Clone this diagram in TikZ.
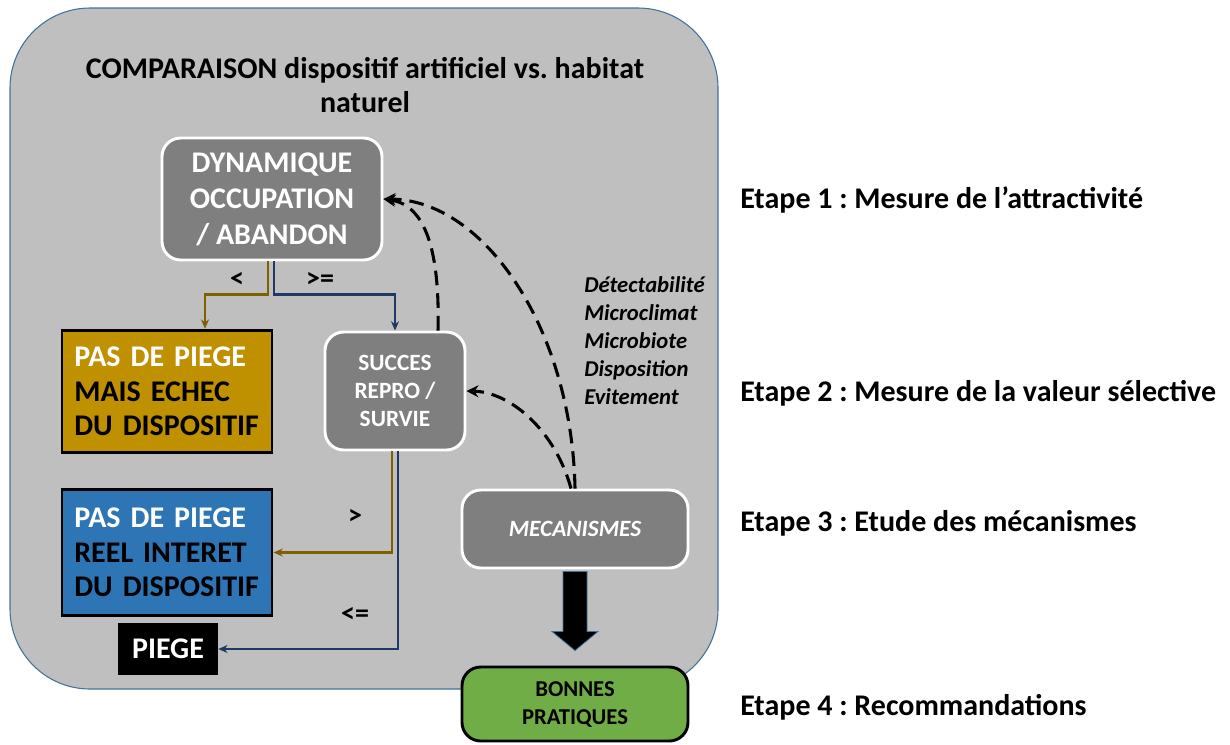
\documentclass[tikz,border=0pt]{standalone}
\usepackage{fontspec}
\setmainfont{Carlito}
\usetikzlibrary{arrows.meta,calc}

\definecolor{bggray}{HTML}{BFBFBF}
\definecolor{boxgray}{HTML}{7F7F7F}
\definecolor{gold}{HTML}{BF9000}
\definecolor{midblue}{HTML}{2E75B6}
\definecolor{leafgreen}{HTML}{70AD47}
\definecolor{brownline}{HTML}{7F6000}
\definecolor{navyline}{HTML}{1F3864}
\definecolor{edgeblue}{HTML}{41719C}

\frenchspacing

\begin{document}
\begin{tikzpicture}[x=0.75pt, y=-0.75pt,
  graybox/.style={draw=white, line width=2.2pt, fill=boxgray, rounded corners=14pt,
    text=white, align=center},
  flatbox/.style={draw=black, line width=2.2pt, align=left, text width=139pt,
    inner xsep=9pt, minimum width=157.5pt,
    font=\fontsize{22.5}{26}\selectfont\bfseries},
  cond/.style={font=\fontsize{21}{24}\selectfont\bfseries},
  etape/.style={anchor=west, inner xsep=0pt, font=\fontsize{22.5}{26}\selectfont\bfseries},
  brownarr/.style={brownline, line width=1.6pt, -{Stealth[length=7pt,width=6pt]}},
  navyarr/.style={navyline, line width=1.6pt, -{Stealth[length=7pt,width=6pt]}},
  dasharr/.style={black, line width=2.3pt, dash pattern=on 11pt off 6pt,
    -{Stealth[length=9pt,width=9pt]}},
  bigarrow/.style={fill=black, draw=edgeblue, line width=0.6pt}
]
  \useasboundingbox (0,0) rectangle (1230,744);

  % fond de comparaison
  \draw[edgeblue, fill=bggray, line width=0.8pt, rounded corners=60pt]
    (10,8) rectangle (718,689);

  \node (title) at (365,85) [align=center, font=\fontsize{22.5}{25.5}\selectfont\bfseries]
    {COMPARAISON dispositif artificiel vs. habitat\\naturel};

  \node (dyn) at (272,199) [graybox, minimum width=165pt, minimum height=91.5pt,
    font=\fontsize{22.5}{27}\selectfont\bfseries]
    {DYNAMIQUE\\OCCUPATION\\/ ABANDON};

  \node (gold) at (167,391.5) [flatbox, fill=gold, minimum height=92pt]
    {\textcolor{white}{PAS DE PIEGE}\\MAIS ECHEC\\DU DISPOSITIF};

  \node (succes) at (395,391) [graybox, minimum width=105pt, minimum height=88.5pt,
    font=\fontsize{17.5}{21}\selectfont\bfseries]
    {SUCCES\\REPRO /\\SURVIE};

  \node (blue) at (167,552.5) [flatbox, fill=midblue, minimum height=94pt]
    {\textcolor{white}{PAS DE PIEGE}\\REEL INTERET\\DU DISPOSITIF};

  \node (piege) at (168,649) [fill=black, text=white, minimum width=75pt,
    minimum height=39pt, font=\fontsize{22.5}{26}\selectfont\bfseries]
    {PIEGE};

  \node (meca) at (575,529) [graybox, minimum width=169.5pt, minimum height=58.5pt,
    font=\fontsize{17.5}{21}\selectfont\bfseries\itshape]
    {MECANISMES};

  \node (bonnes) at (575,704) [draw=black, line width=2.2pt, fill=leafgreen,
    rounded corners=14pt, align=center, minimum width=169.5pt, minimum height=55.5pt,
    font=\fontsize{17}{21}\selectfont\bfseries]
    {BONNES\\PRATIQUES};

  \node (mecs) at (584,340.5) [anchor=west, align=left, inner xsep=0pt,
    font=\fontsize{17}{21}\selectfont\bfseries\itshape]
    {Détectabilité\\Microclimat\\Microbiote\\Disposition\\Evitement};

  % conditions
  \node (lt) at (237,280) [cond] {<};
  \node (ge) at (320,280) [cond] {>=};
  \node (gt) at (355,517) [cond] {>};
  \node (le) at (355,615) [cond] {<=};

  % etapes
  \node (E1) at (740,200) [etape] {Etape 1 : Mesure de l’attractivité};
  \node (E2) at (740,393) [etape] {Etape 2 : Mesure de la valeur sélective};
  \node (E3) at (740,523) [etape] {Etape 3 : Etude des mécanismes};
  \node (E4) at (740,707) [etape] {Etape 4 : Recommandations};

  % connecteurs
  \draw[brownarr] ($(dyn.south)+(-4,0)$) -- ++(0,33) -| ($(gold.north)+(38,0)$);
  \draw[navyarr] ($(dyn.south)+(2,0)$) -- ++(0,33) -| (succes.north);
  \draw[brownarr] ($(succes.south)+(-3,0)$) |- (blue.east);
  \draw[navyarr] ($(succes.south)+(3,0)$) |- (piege.east);

  \draw[dasharr] (meca.north) .. controls (572,330) and (485,200) .. (dyn.east);
  \draw[dasharr] ($(meca.north)+(-4,0)$) .. controls (555,430) and (510,392) .. (succes.east);
  \draw[dasharr] ($(succes.north)+(43,0)$) .. controls (440,250) and (425,205) .. (dyn.east);

  \coordinate (m0) at (meca.south);
  \draw[bigarrow] ($(m0)+(-12,2)$) -- ($(m0)+(-12,62)$) -- ($(m0)+(-23,62)$)
    -- ($(bonnes.north)+(0,-15)$) -- ($(m0)+(23,62)$) -- ($(m0)+(12,62)$)
    -- ($(m0)+(12,2)$) -- cycle;
\end{tikzpicture}
\end{document}
